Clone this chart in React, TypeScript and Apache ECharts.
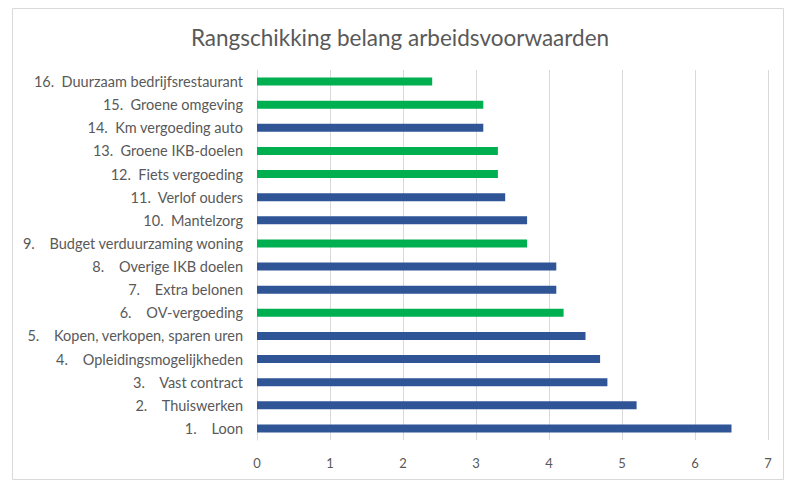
import React, { useEffect, useRef } from "react";
import * as echarts from "echarts";

const title = "Rangschikking belang arbeidsvoorwaarden";
const ranks = ["1.", "2.", "3.", "4.", "5.", "6.", "7.", "8.", "9.", "10.", "11.", "12.", "13.", "14.", "15.", "16."];
const names = [
  "Loon",
  "Thuiswerken",
  "Vast contract",
  "Opleidingsmogelijkheden",
  "Kopen, verkopen, sparen uren",
  "OV-vergoeding",
  "Extra belonen",
  "Overige IKB doelen",
  "Budget verduurzaming woning",
  "Mantelzorg",
  "Verlof ouders",
  "Fiets vergoeding",
  "Groene IKB-doelen",
  "Km vergoeding auto",
  "Groene omgeving",
  "Duurzaam bedrijfsrestaurant",
];
const values = [6.5, 5.2, 4.8, 4.7, 4.5, 4.2, 4.1, 4.1, 3.7, 3.7, 3.4, 3.3, 3.3, 3.1, 3.1, 2.4];
const isGreen = [false, false, false, false, false, true, false, false, true, false, false, true, true, false, true, true];
const xTicks = [0, 1, 2, 3, 4, 5, 6, 7];

const BLUE = "#2F5597";
const GREEN = "#00B050";

export default function App() {
  const ref = useRef<HTMLDivElement>(null);
  useEffect(() => {
    if (!ref.current) return;
    const chart = echarts.init(ref.current, undefined, { renderer: "svg" });
    const categories = ranks.map((r, i) => (r.length === 2 ? r + "\u00a0\u00a0\u00a0\u00a0" : r + "\u00a0\u00a0") + names[i]);
    chart.setOption({
      animation: false,
      backgroundColor: "#ffffff",
      title: {
        text: title,
        left: "center",
        top: 21,
        textStyle: { fontFamily: "Lato", fontWeight: "normal", fontSize: 22.5, color: "#595959" },
      },
      graphic: [
        {
          type: "rect",
          shape: { x: 12.5, y: 8.5, width: 771, height: 471 },
          style: { fill: "none", stroke: "#d9d9d9", lineWidth: 1 },
          silent: true,
        },
      ],
      grid: { left: 257, right: 32, top: 70, bottom: 48, containLabel: false },
      xAxis: {
        type: "value",
        min: xTicks[0],
        max: xTicks[xTicks.length - 1],
        interval: 1,
        axisLine: { show: false },
        axisTick: { show: false },
        axisLabel: { color: "#595959", fontFamily: "Lato", fontSize: 13, margin: 16 },
        splitLine: { show: true, lineStyle: { color: "#d9d9d9", width: 1 } },
      },
      yAxis: {
        type: "category",
        data: categories,
        axisLine: { show: true, lineStyle: { color: "#d9d9d9", width: 1 } },
        axisTick: { show: false },
        axisLabel: { color: "#595959", fontFamily: "Lato", fontSize: 14.5, margin: 14 },
      },
      series: [
        {
          type: "bar",
          barWidth: 8,
          data: values.map((v, i) => ({ value: v, itemStyle: { color: isGreen[i] ? GREEN : BLUE } })),
        },
      ],
    });
    return () => chart.dispose();
  }, []);
  return <div ref={ref} style={{ position: "fixed", left: 0, top: 0, width: 800, height: 488 }} />;
}
